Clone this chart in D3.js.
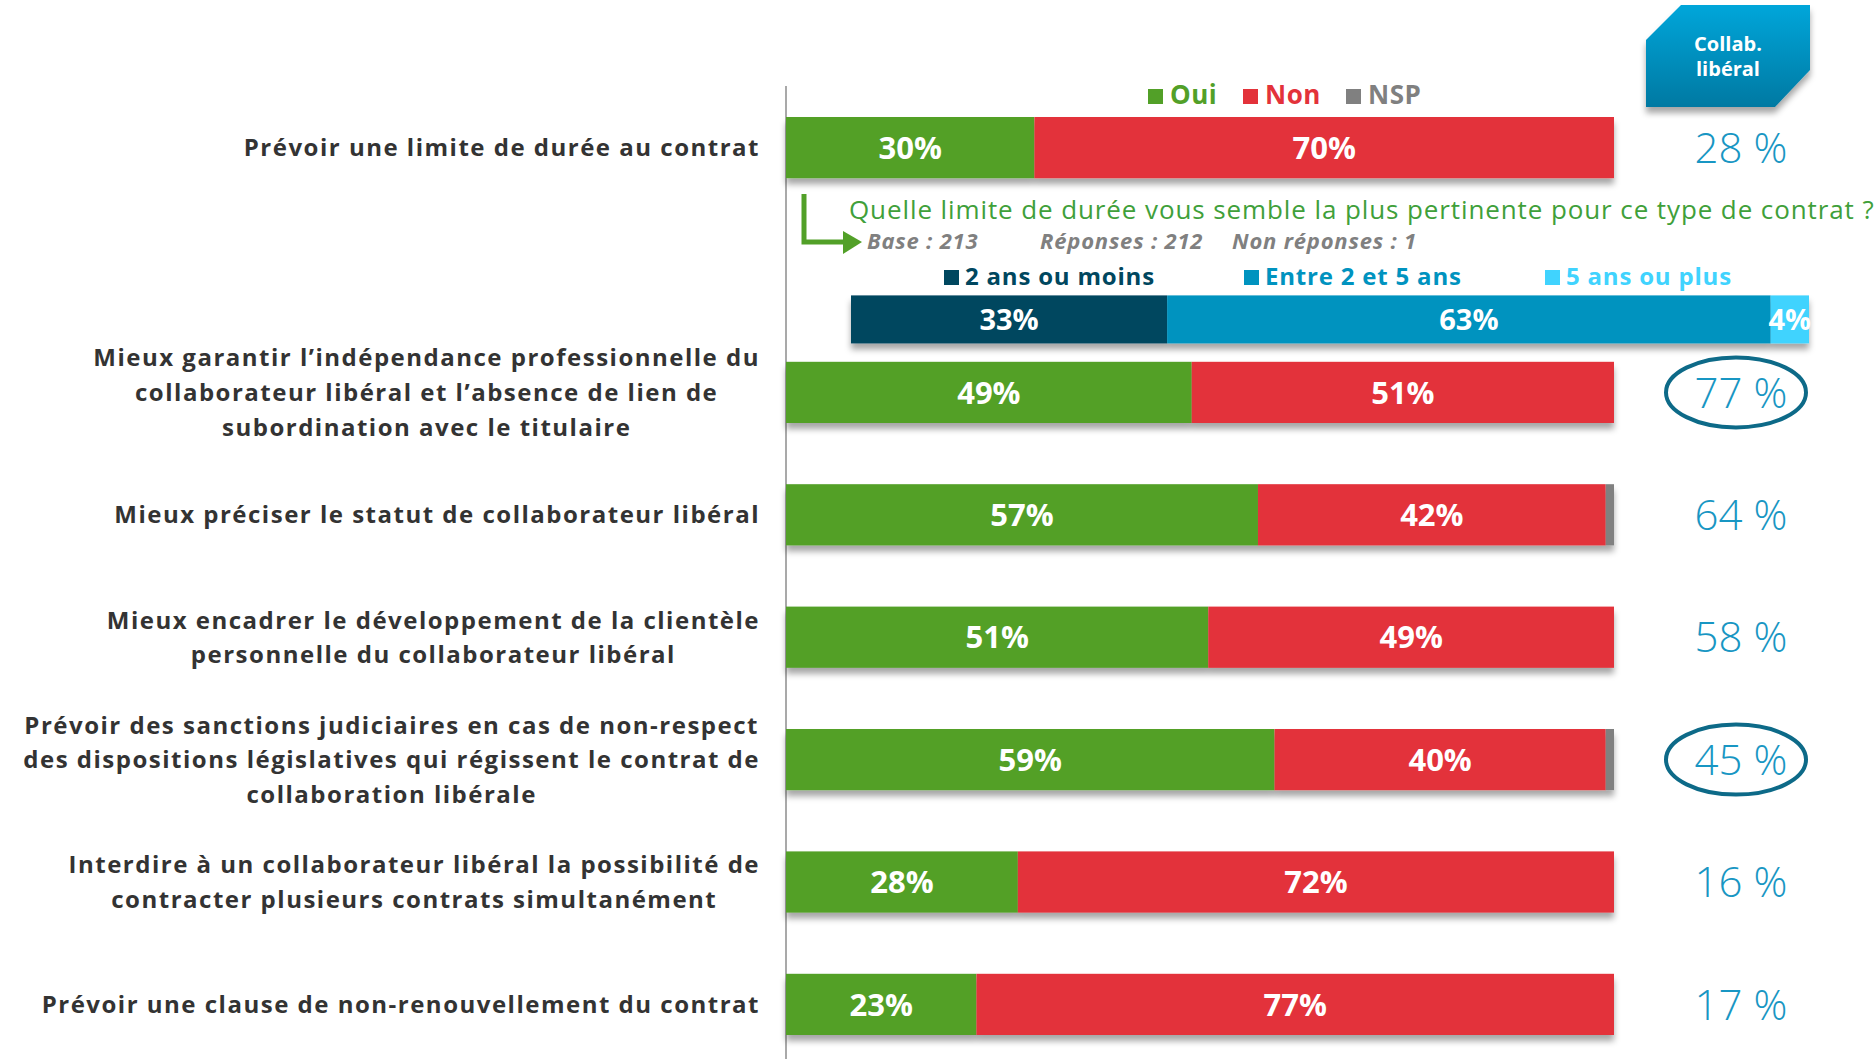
<!DOCTYPE html>
<html>
<head>
<meta charset="utf-8">
<script src="https://cdn.jsdelivr.net/npm/d3@7"></script>
<style>
  body { margin: 0; background: #fff; }
  text { font-family: "Open Sans", sans-serif; }
</style>
</head>
<body>
<div id="chart"></div>
<script>
// data
var questions = [
  "Prévoir une limite de durée au contrat",
  "Mieux garantir l’indépendance professionnelle du\ncollaborateur libéral et l’absence de lien de\nsubordination avec le titulaire",
  "Mieux préciser le statut de collaborateur libéral",
  "Mieux encadrer le développement de la clientèle\npersonnelle du collaborateur libéral",
  "Prévoir des sanctions judiciaires en cas de non-respect\ndes dispositions législatives qui régissent le contrat de\ncollaboration libérale",
  "Interdire à un collaborateur libéral la possibilité de\ncontracter plusieurs contrats simultanément",
  "Prévoir une clause de non-renouvellement du contrat"
];
var oui = [30, 49, 57, 51, 59, 28, 23];
var non = [70, 51, 42, 49, 40, 72, 77];
var nsp = [0, 0, 1, 0, 1, 0, 0];
var collab = [28, 77, 64, 58, 45, 16, 17];
var circled = [1, 4];

var seriesKeys = ["oui", "non", "nsp"];
var seriesNames = ["Oui", "Non", "NSP"];
var seriesColors = ["#52a028", "#e3323a", "#808080"];

var subQuestion = "Quelle limite de durée vous semble la plus pertinente pour ce type de contrat ?";
var subStats = ["Base : 213", "Réponses : 212", "Non réponses : 1"];
var dureeNames = ["2 ans ou moins", "Entre 2 et 5 ans", "5 ans ou plus"];
var dureeValues = [33, 63, 4];
var dureeColors = ["#00475f", "#0093bf", "#40d3fe"];

var badgeLines = ["Collab.", "libéral"];

// setup
var svgWidth = 1874;
var svgHeight = 1059;

var svg = d3.select("#chart")
  .append("svg")
  .attr("width", svgWidth)
  .attr("height", svgHeight);

var defs = svg.append("defs");
var shadow = defs.append("filter").attr("id", "shadow")
  .attr("x", "-5%").attr("y", "-20%").attr("width", "110%").attr("height", "160%");
shadow.append("feDropShadow")
  .attr("dx", 0).attr("dy", 6).attr("stdDeviation", 3)
  .attr("flood-color", "#000").attr("flood-opacity", 0.35);

var grad = defs.append("linearGradient").attr("id", "badgeGrad")
  .attr("x1", 0).attr("y1", 0).attr("x2", 0).attr("y2", 1);
grad.append("stop").attr("offset", "0%").attr("stop-color", "#00a6da");
grad.append("stop").attr("offset", "100%").attr("stop-color", "#0079a2");

// scales: 8 slots, slot 1 holds the follow-up question
var slotOf = function(i) { return i === 0 ? 0 : i + 1; };
var y = d3.scaleBand()
  .domain(d3.range(8))
  .range([117, 1035])
  .paddingInner(0.5)
  .paddingOuter(0)
  .align(0);

var x = d3.scaleLinear().domain([0, 100]).range([786, 1614]);
var xSub = d3.scaleLinear().domain([0, 100]).range([851, 1809]);

// vertical axis line
svg.append("line")
  .attr("x1", x(0)).attr("x2", x(0))
  .attr("y1", 86).attr("y2", svgHeight)
  .attr("stroke", "#8c8c8c").attr("stroke-width", 1.5);

// stacked bars
var rows = questions.map(function(q, i) {
  return { oui: oui[i], non: non[i], nsp: nsp[i] };
});
var stacked = d3.stack().keys(seriesKeys)(rows);

var barGroup = svg.append("g").attr("filter", "url(#shadow)");
stacked.forEach(function(layer, k) {
  barGroup.selectAll(".seg-" + k)
    .data(layer)
    .enter()
    .append("rect")
    .attr("x", d => x(d[0]))
    .attr("y", (d, i) => y(slotOf(i)))
    .attr("width", d => x(d[1]) - x(d[0]))
    .attr("height", y.bandwidth())
    .attr("fill", seriesColors[k]);
});

stacked.forEach(function(layer, k) {
  if (k === 2) return;
  svg.selectAll(".lab-" + k)
    .data(layer)
    .enter()
    .append("text")
    .attr("x", d => (x(d[0]) + x(d[1])) / 2)
    .attr("y", (d, i) => y(slotOf(i)) + y.bandwidth() / 2)
    .attr("dy", "0.36em")
    .attr("text-anchor", "middle")
    .attr("fill", "#fff")
    .attr("font-size", 31)
    .attr("font-weight", 700)
    .text(d => (d[1] - d[0]) + "%");
});

// question labels, centred block aligned right against the axis
var labelRight = 760;
var lineH = 34.6;
questions.forEach(function(q, i) {
  var lines = q.split("\n");
  var cy = y(slotOf(i)) + y.bandwidth() / 2;
  var g = svg.append("g");
  var texts = g.selectAll("text")
    .data(lines)
    .enter()
    .append("text")
    .attr("y", (d, j) => cy + (j - (lines.length - 1) / 2) * lineH)
    .attr("dy", "0.36em")
    .attr("text-anchor", "middle")
    .attr("fill", "#333333")
    .attr("font-size", 24)
    .attr("font-weight", 700)
    .attr("letter-spacing", 1.5)
    .text(d => d);
  var maxW = d3.max(texts.nodes(), n => n.getComputedTextLength());
  texts.attr("x", labelRight - maxW / 2);
});

// legend Oui / Non / NSP
var legendX = [1148, 1243, 1346];
seriesNames.forEach(function(name, k) {
  svg.append("rect")
    .attr("x", legendX[k]).attr("y", 89)
    .attr("width", 15).attr("height", 15)
    .attr("fill", seriesColors[k]);
  svg.append("text")
    .attr("x", legendX[k] + 22).attr("y", 104)
    .attr("fill", seriesColors[k])
    .attr("font-size", 26)
    .attr("font-weight", 700)
    .attr("letter-spacing", 0.5)
    .text(name);
});

// right column: Collab. libéral
svg.append("path")
  .attr("d", "M1646,40 L1681,5 L1810,5 L1810,70 L1775,107 L1646,107 Z")
  .attr("fill", "url(#badgeGrad)")
  .attr("filter", "url(#shadow)");
svg.selectAll(".badge")
  .data(badgeLines)
  .enter()
  .append("text")
  .attr("x", 1728)
  .attr("y", (d, j) => 51 + j * 25)
  .attr("text-anchor", "middle")
  .attr("fill", "#fff")
  .attr("font-size", 20)
  .attr("font-weight", 700)
  .text(d => d);

svg.selectAll(".collab")
  .data(collab)
  .enter()
  .append("text")
  .attr("x", 1741)
  .attr("y", (d, i) => y(slotOf(i)) + y.bandwidth() / 2)
  .attr("dy", "0.36em")
  .attr("text-anchor", "middle")
  .attr("fill", "#1896c3")
  .attr("font-size", 42)
  .attr("font-weight", 300)
  .text(d => d + " %");

svg.selectAll(".ring")
  .data(circled)
  .enter()
  .append("ellipse")
  .attr("cx", 1736)
  .attr("cy", i => y(slotOf(i)) + y.bandwidth() / 2)
  .attr("rx", 70)
  .attr("ry", 35)
  .attr("fill", "none")
  .attr("stroke", "#0d6a88")
  .attr("stroke-width", 4);

// follow-up question on duration
var green = "#52a028";
svg.append("path")
  .attr("d", "M804,194 L804,242 L846,242")
  .attr("fill", "none")
  .attr("stroke", green)
  .attr("stroke-width", 5);
svg.append("path")
  .attr("d", "M843,231 L862,242 L843,254 Z")
  .attr("fill", green);

svg.append("text")
  .attr("x", 849).attr("y", 219)
  .attr("fill", "#3fa03a")
  .attr("font-size", 26)
  .attr("letter-spacing", 0.9)
  .text(subQuestion);

var statX = [867, 1040, 1232];
svg.selectAll(".stat")
  .data(subStats)
  .enter()
  .append("text")
  .attr("x", (d, j) => statX[j])
  .attr("y", 249)
  .attr("fill", "#808080")
  .attr("font-size", 22)
  .attr("font-weight", 700)
  .attr("font-style", "italic")
  .attr("letter-spacing", 0.8)
  .text(d => d);

var dureeLegendX = [944, 1244, 1545];
dureeNames.forEach(function(name, k) {
  svg.append("rect")
    .attr("x", dureeLegendX[k]).attr("y", 270)
    .attr("width", 15).attr("height", 15)
    .attr("fill", dureeColors[k]);
  svg.append("text")
    .attr("x", dureeLegendX[k] + 21).attr("y", 285)
    .attr("fill", dureeColors[k])
    .attr("font-size", 24)
    .attr("font-weight", 700)
    .attr("letter-spacing", 0.8)
    .text(name);
});

var subY = y(1) + 56;
var subH = 48;
var dureeStack = [];
var acc = 0;
dureeValues.forEach(function(v, k) {
  dureeStack.push({ x0: acc, x1: acc + v, k: k });
  acc += v;
});
svg.append("g").attr("filter", "url(#shadow)")
  .selectAll("rect")
  .data(dureeStack)
  .enter()
  .append("rect")
  .attr("x", d => xSub(d.x0))
  .attr("y", subY)
  .attr("width", d => xSub(d.x1) - xSub(d.x0))
  .attr("height", subH)
  .attr("fill", d => dureeColors[d.k]);
svg.selectAll(".dlab")
  .data(dureeStack)
  .enter()
  .append("text")
  .attr("x", d => (xSub(d.x0) + xSub(d.x1)) / 2)
  .attr("y", subY + subH / 2)
  .attr("dy", "0.36em")
  .attr("text-anchor", "middle")
  .attr("fill", "#fff")
  .attr("font-size", 29)
  .attr("font-weight", 700)
  .text(d => (d.x1 - d.x0) + "%");
</script>
</body>
</html>
